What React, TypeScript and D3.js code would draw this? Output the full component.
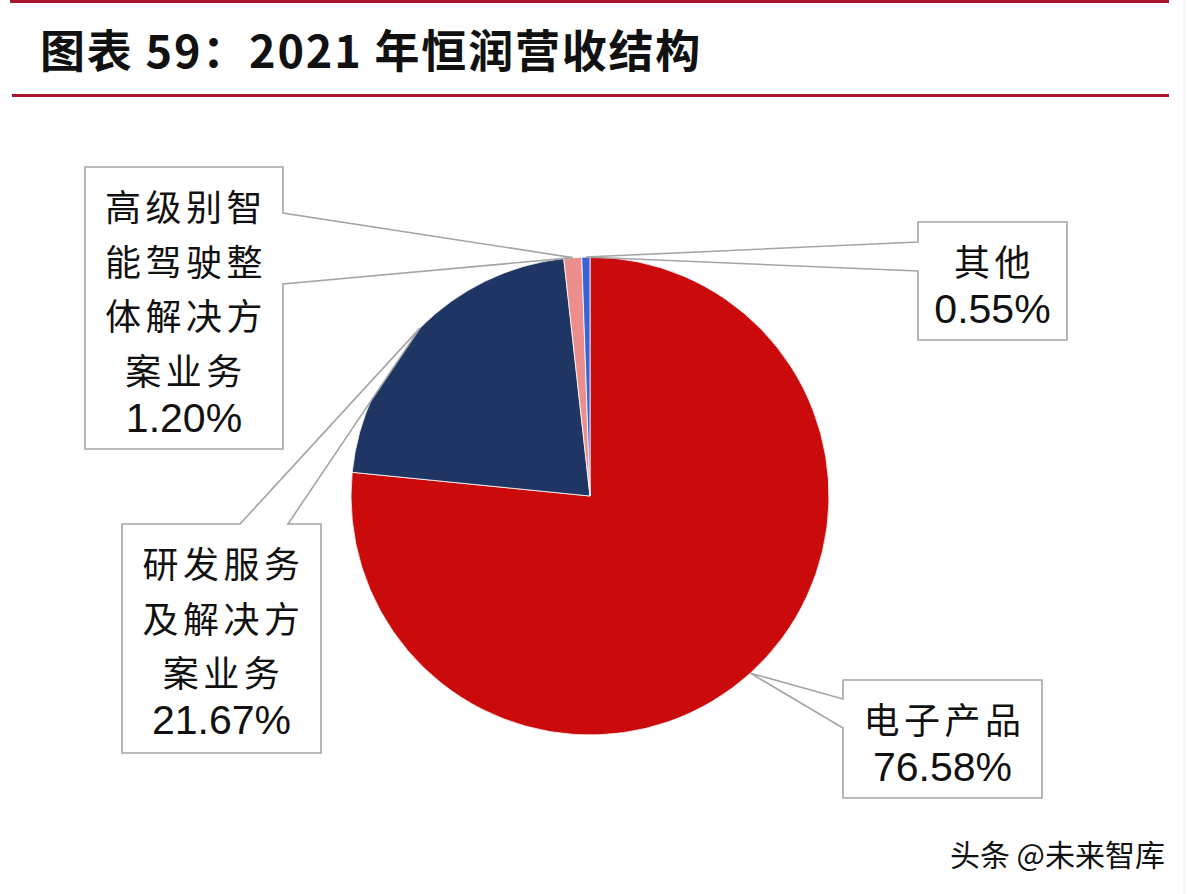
import { useMemo } from 'react'
import * as d3 from 'd3'

const W = 1188
const H = 894

// pie data, clockwise from 12 o'clock
const categories = ['电子产品', '研发服务及解决方案业务', '高级别智能驾驶整体解决方案业务', '其他']
const shares = [76.58, 21.67, 1.2, 0.55]
const labelLines = [
  ['电子产品'],
  ['研发服务', '及解决方', '案业务'],
  ['高级别智', '能驾驶整', '体解决方', '案业务'],
  ['其他'],
]
const colors = ['#CB0A0C', '#1F3563', '#EC8E8C', '#3A63D4']

const TITLE = '图表 59：2021 年恒润营收结构'
const WATERMARK = '头条 @未来智库'

// callout boxes: box rect + which edge the pointer leaves from + the two base points on that edge
const callouts = [
  { x: 843, y: 680, w: 199, h: 118, side: 'left', base: [699, 728] },
  { x: 122, y: 524, w: 199, h: 229, side: 'top', base: [240, 288] },
  { x: 85, y: 167, w: 198, h: 282, side: 'right', base: [213, 284] },
  { x: 918, y: 222, w: 149, h: 118, side: 'left', base: [242, 271] },
]

const CX = 590
const CY = 496
const R = 239

const CJK = '"Noto Sans CJK SC", "Noto Sans", sans-serif'
const LATIN = '"Liberation Sans", Arial, sans-serif'

function calloutPath(c: typeof callouts[number], tip: [number, number]) {
  const { x, y, w, h, side, base } = c
  const [a, b] = base
  const [tx, ty] = tip
  const p = d3.path()
  p.moveTo(x, y)
  if (side === 'top') {
    p.lineTo(a, y); p.lineTo(tx, ty); p.lineTo(b, y)
  }
  p.lineTo(x + w, y)
  if (side === 'right') {
    p.lineTo(x + w, a); p.lineTo(tx, ty); p.lineTo(x + w, b)
  }
  p.lineTo(x + w, y + h)
  p.lineTo(x, y + h)
  if (side === 'left') {
    p.lineTo(x, b); p.lineTo(tx, ty); p.lineTo(x, a)
  }
  p.closePath()
  return p.toString()
}

export default function App() {
  const arcs = useMemo(() => d3.pie<number>().sort(null).value(d => d)(shares), [])
  const arcGen = d3.arc<d3.PieArcDatum<number>>().innerRadius(0).outerRadius(R)
  const edgeGen = d3.arc<d3.PieArcDatum<number>>().innerRadius(R).outerRadius(R)

  return (
    <svg width={W} height={H} style={{ position: 'absolute', left: 0, top: 0, background: '#fff' }}>
      {/* header */}
      <line x1={10} x2={1169} y1={1.5} y2={1.5} stroke="#A8142C" strokeWidth={3} />
      <text x={40} y={68} fontFamily={CJK} fontWeight={700} fontSize={45} fill="#111" letterSpacing={1.8}>
        {TITLE}
      </text>
      <line x1={12} x2={1169} y1={95.5} y2={95.5} stroke="#A8142C" strokeWidth={3} />
      <line x1={1184} x2={1184} y1={0} y2={H} stroke="#eee" strokeWidth={1} />

      {/* pie */}
      <g transform={`translate(${CX},${CY})`}>
        {arcs.map((a, i) => (
          <path key={categories[i]} d={arcGen(a) || ''} fill={colors[i]} stroke="#fff" strokeWidth={0.8} />
        ))}
      </g>

      {/* callouts */}
      {arcs.map((a, i) => {
        const c = callouts[i]
        const [ex, ey] = edgeGen.centroid(a)
        const tip: [number, number] = [CX + ex, CY + ey]
        const lines = labelLines[i]
        const mid = c.x + c.w / 2
        const y0 = c.y + 38
        return (
          <g key={categories[i]}>
            <path d={calloutPath(c, tip)} fill="#fff" stroke="#A5A5A5" strokeWidth={1.6} strokeLinejoin="miter" />
            {lines.map((t, j) => (
              <text
                key={j}
                x={mid + 2}
                y={y0 + j * 54.5}
                textAnchor="middle"
                dominantBaseline="central"
                fontFamily={CJK}
                fontSize={36}
                letterSpacing={4.5}
                fill="#111"
              >
                {t}
              </text>
            ))}
            <text
              x={mid}
              y={y0 + (lines.length - 1) * 54.5 + 49}
              textAnchor="middle"
              dominantBaseline="central"
              fontFamily={LATIN}
              fontSize={41}
              fill="#111"
            >
              {shares[i].toFixed(2) + '%'}
            </text>
          </g>
        )
      })}

      {/* watermark */}
      <text
        x={1165}
        y={866}
        textAnchor="end"
        fontFamily={CJK}
        fontSize={30}
        fill="#111"
        stroke="#fff"
        strokeWidth={3}
        paintOrder="stroke"
      >
        {WATERMARK}
      </text>
    </svg>
  )
}
